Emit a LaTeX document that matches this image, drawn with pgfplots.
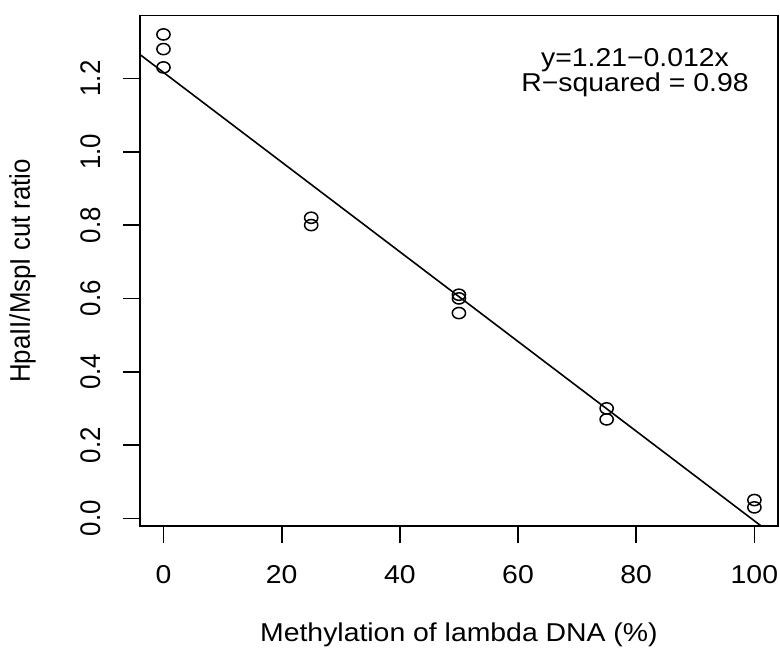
\documentclass[border=0pt]{standalone}
\usepackage{fontspec}
\setmainfont{Liberation Sans}[FakeStretch=1.10]
% vertical text: same glyph width along the reading direction, taller glyphs
\newfontfamily\rotfont{Liberation Sans}[FakeStretch=0.91,Scale=1.10]
\usepackage{pgfplots}
\pgfplotsset{compat=1.18}
\newcommand\lbl{\fontsize{25.8pt}{31pt}\selectfont}
\begin{document}
\begin{tikzpicture}
\begin{axis}[
  scale only axis,
  width=638.1pt, height=510.7pt,
  xmin=-4, xmax=104, ymin=-0.0216, ymax=1.3716,
  axis line style={line width=1.8pt, black},
  xtick={0,20,40,60,80,100},
  ytick={0,0.2,0.4,0.6,0.8,1.0,1.2},
  xtick pos=bottom, ytick pos=left,
  tick align=outside, major tick length=17pt,
  every tick/.style={black, line width=1.7pt},
  /pgf/number format/assume math mode=true,
  yticklabel style={/pgf/number format/fixed, /pgf/number format/fixed zerofill,
    /pgf/number format/precision=1, font=\lbl\rotfont,
    xshift=-22.8pt, rotate=90, anchor=base},
  xticklabel style={font=\lbl, anchor=base, yshift=-40pt},
  xlabel={Methylation of lambda DNA (\%)},
  ylabel={HpaII/MspI cut ratio},
  every axis x label/.style={at={(axis description cs:0.5,-0.2262)}, anchor=base, font=\lbl},
  every axis y label/.style={at={(axis description cs:-0.1721,0.5)}, rotate=90, anchor=base, font=\lbl\rotfont},
]
% measured cut ratios, three or two replicates per methylation level
\addplot[only marks, mark=o, mark size=5.6pt,
  mark options={xscale=1.18, line width=1.5pt, black}] coordinates {
  (0,1.32) (0,1.28) (0,1.23)
  (25,0.82) (25,0.80)
  (50,0.61) (50,0.60) (50,0.56)
  (75,0.30) (75,0.27)
  (100,0.05) (100,0.03)
};
% least-squares line, y = 1.2165 - 0.012233 x, across the plot region
\addplot[black, line width=1.6pt] coordinates {(-4,1.2654) (104,-0.0557)};
\node[anchor=base, font=\lbl] at (axis cs:79.8,1.2319) {y=1.21−0.012x};
\node[anchor=base, font=\lbl] at (axis cs:79.8,1.1637) {R−squared = 0.98};
\coordinate (BL) at (rel axis cs:-0.2191,-0.2483);
\coordinate (TR) at (rel axis cs:1.0031,1.0304);
\end{axis}
\pgfresetboundingbox
\path[use as bounding box] (BL) rectangle (TR);
\end{tikzpicture}
\end{document}
